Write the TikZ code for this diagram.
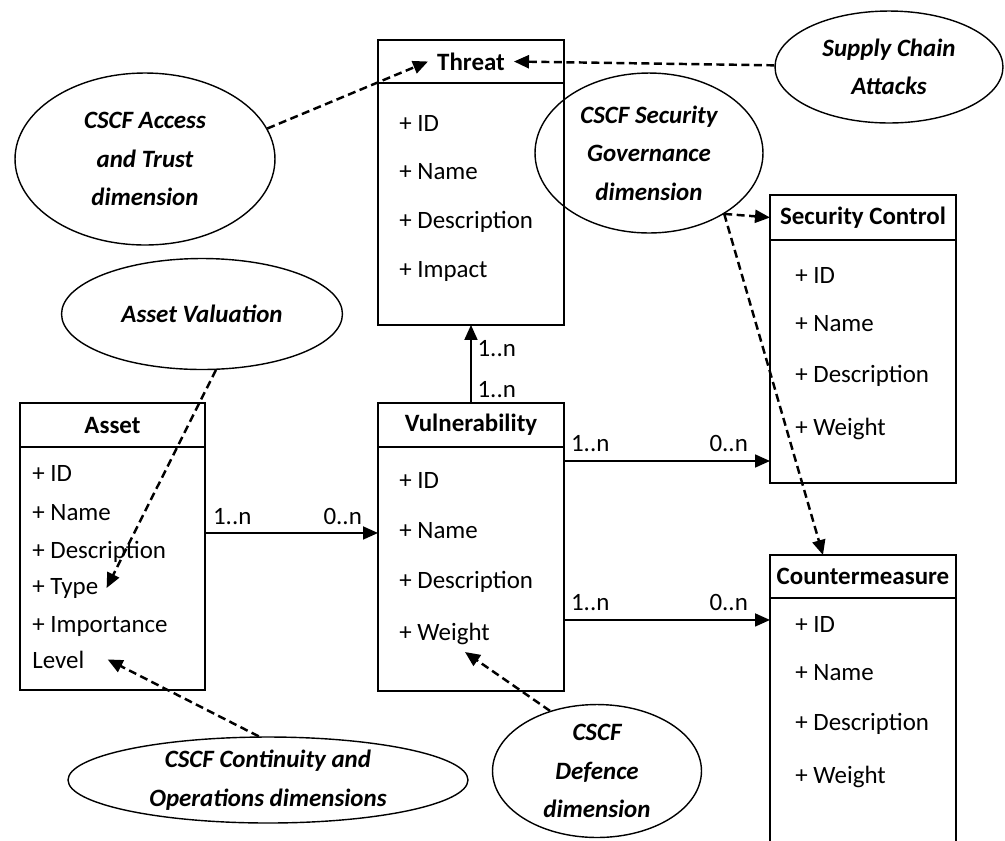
\documentclass[tikz,border=0pt]{standalone}
\usepackage{fontspec}
\setmainfont{Carlito}
\usetikzlibrary{positioning,shapes.geometric,arrows.meta}

\newcommand{\umlsize}{\fontsize{14.2}{22}\selectfont}

\tikzset{
  classhead/.style={draw, rectangle, line width=1.5pt, outer sep=0pt, inner sep=0pt, minimum width=3.72cm, minimum height=0.88cm, anchor=north west, font=\umlsize\bfseries},
  classbody/.style={draw, rectangle, line width=1.5pt, outer sep=0pt, inner sep=0pt, minimum width=3.72cm},
  attr/.style={anchor=base west, inner sep=0pt, font=\umlsize},
  mult/.style={inner sep=1pt, font=\umlsize},
  dimnote/.style={draw, ellipse, line width=0.8pt, inner sep=0pt, align=center, font=\umlsize\bfseries\itshape},
  assoc/.style={line width=1pt, -{Triangle[length=0.3cm,width=0.26cm]}},
  maps/.style={line width=1.4pt, dash pattern=on 0.16cm off 0.09cm, -{Triangle[length=0.3cm,width=0.26cm]}}
}

\begin{document}
\begin{tikzpicture}[x=0.02cm, y=-0.02cm]
\useasboundingbox (0,0) rectangle (1005,840);

% classes
\node[classhead, minimum height=0.86cm] (threat-head) at (378,40) {Threat};
\node[classbody, minimum height=4.84cm, below=0pt of threat-head] (threat-body) {};
\foreach \txt/\yy [count=\i] in {+ ID/131, + Name/179, + Description/228, + Impact/277}
  \node[attr] (threat-\i) at (399,\yy) {\txt};

\node[classhead] (vuln-head) at (378,403) {Vulnerability};
\node[classbody, minimum height=4.88cm, below=0pt of vuln-head] (vuln-body) {};
\foreach \txt/\yy [count=\i] in {+ ID/488, + Name/538, + Description/588, + Weight/640}
  \node[attr] (vuln-\i) at (399,\yy) {\txt};

\node[classhead, minimum width=3.7cm] (asset-head) at (20,403) {Asset};
\node[classbody, minimum width=3.7cm, minimum height=4.86cm, below=0pt of asset-head] (asset-body) {};
\foreach \txt/\yy [count=\i] in {+ ID/481, + Name/520, + Description/558, + Type/594, + Importance/632, Level/668}
  \node[attr] (asset-\i) at (32,\yy) {\txt};

\node[classhead, minimum height=0.9cm] (sec-head) at (770,195) {Security Control};
\node[classbody, minimum height=4.86cm, below=0pt of sec-head] (sec-body) {};
\foreach \txt/\yy [count=\i] in {+ ID/283, + Name/331, + Description/382, + Weight/435}
  \node[attr] (sec-\i) at (795,\yy) {\txt};

\node[classhead, minimum height=0.86cm] (cm-head) at (770,555) {Countermeasure};
\node[classbody, minimum height=5.5cm, below=0pt of cm-head] (cm-body) {};
\foreach \txt/\yy [count=\i] in {+ ID/632, + Name/680, + Description/730, + Weight/783}
  \node[attr] (cm-\i) at (795,\yy) {\txt};

% CSCF dimensions
\node[dimnote, minimum width=5.2cm, minimum height=3.44cm] (access) at (145,159) {CSCF Access\\and Trust\\dimension};
\node[dimnote, minimum width=4.56cm, minimum height=2.24cm] (supply) at (889,67) {Supply Chain\\Attacks};
\node[dimnote, minimum width=4.56cm, minimum height=3.2cm] (governance) at (649,153) {CSCF Security\\Governance\\dimension};
\node[dimnote, minimum width=5.62cm, minimum height=2.22cm] (valuation) at (202,314) {Asset Valuation};
\node[dimnote, minimum width=8cm, minimum height=1.72cm] (continuity) at (268,780) {CSCF Continuity and\\Operations dimensions};
\node[dimnote, minimum width=4.18cm, minimum height=2.66cm] (defence) at (597,771) {CSCF\\Defence\\dimension};

% associations
\draw[assoc] (vuln-head.north) -- (threat-body.south);
\node[mult, below right=0.26cm and 0.09cm of threat-body.south] (vt-to) {1..n};
\node[mult, above right=0.07cm and 0.09cm of vuln-head.north] (vt-from) {1..n};

\coordinate (av) at ([yshift=-1.72cm]asset-body.north east);
\coordinate (av-end) at (av -| vuln-body.west);
\draw[assoc] (av) -- (av-end);
\node[mult, above right=0.12cm and 0.12cm of av] (av-from) {1..n};
\node[mult, above left=0.12cm and 0.28cm of av-end] (av-to) {0..n};

\coordinate (sv) at ([yshift=-0.28cm]vuln-body.north east);
\coordinate (sv-end) at (sv -| sec-body.west);
\draw[assoc] (sv) -- (sv-end);
\node[mult, above right=0.14cm and 0.1cm of sv] (sv-from) {1..n};
\node[mult, above left=0.14cm and 0.4cm of sv-end] (sv-to) {0..n};

\coordinate (cv) at ([yshift=-3.46cm]vuln-body.north east);
\coordinate (cv-end) at (cv -| cm-body.west);
\draw[assoc] (cv) -- (cv-end);
\node[mult, above right=0.14cm and 0.1cm of cv] (cv-from) {1..n};
\node[mult, above left=0.14cm and 0.4cm of cv-end] (cv-to) {0..n};

% mappings
\draw[maps] (access.14) -- ([xshift=-0.86cm]threat-head.center);
\draw[maps] (supply) -- ([xshift=0.86cm]threat-head.center);
\draw[maps] (governance.-39) -- (sec-head.west);
\draw[maps] (governance.-39) -- ([xshift=-0.8cm]cm-head.north);
\draw[maps] (valuation.-76) -- ([xshift=0.16cm]asset-4.east);
\draw[maps] (continuity.102) -- ([xshift=0.46cm]asset-6.east);
\draw[maps] (defence.128) -- ([shift={(1.32cm,-0.24cm)}]vuln-4.base west);
\end{tikzpicture}
\end{document}
